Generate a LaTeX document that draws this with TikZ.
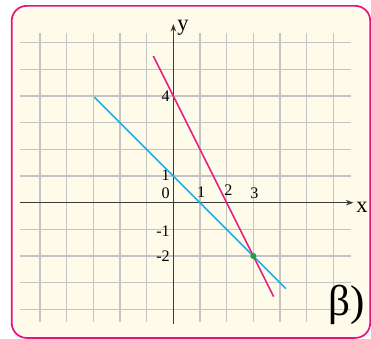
\documentclass[tikz,border=0pt]{standalone}
\usepackage{fontspec}
\setmainfont{Liberation Serif}
\usetikzlibrary{arrows.meta}
\definecolor{frpink}{HTML}{E6127F}
\definecolor{paper}{HTML}{FFFBEA}
\definecolor{gridgray}{HTML}{C4C4C4}
\definecolor{axgray}{HTML}{3A3A3A}
\definecolor{lnblue}{HTML}{2AAAE2}
\definecolor{lnpink}{HTML}{E61E7D}
\definecolor{ptgreen}{HTML}{1E9E4A}

\begin{document}
\begin{tikzpicture}[>=Stealth,x=0.5cm,y=0.5cm]
  \useasboundingbox (-6.5,-5.11) rectangle (7.41,7.6);

  % --- frame ---
  \draw[frpink,fill=paper,line width=0.9pt,rounded corners=0.28cm]
    (-6.06,-5.07) rectangle (7.38,7.38);

  % --- grid ---
  \foreach \xx in {-5,...,6}
    \draw[gridgray,line width=0.7pt] (\xx,-4.46) -- (\xx,6.36);
  \foreach \yy in {-4,...,6}
    \draw[gridgray,line width=0.7pt] (-5.74,\yy) -- (6.65,\yy);

  % --- axes ---
  \draw[->,axgray,line width=0.8pt,>={Stealth[length=4pt,width=3pt]}]
    (-5.74,0) -- (6.75,0);
  \draw[->,axgray,line width=0.8pt,>={Stealth[length=4pt,width=3pt]}]
    (0,-4.55) -- (0,6.7);
  \node[font=\large] (xlab) at (7.07,-0.18) {x};
  \node[font=\large] (ylab) at (0.36,6.55) {y};

  % y ticks
  \foreach \v/\yy in {4/4,1/1.04,0/0.37,-1/-1.06,-2/-2.02}
    \node[font=\fontsize{8.6}{10}\selectfont,left,inner sep=0pt] (ty\v) at (-0.12,\yy) {\v};
  % x ticks
  \foreach \v/\xx/\yy in {1/1.04/0.41,2/2.06/0.47,3/3.04/0.35}
    \node[font=\fontsize{8.6}{10}\selectfont,inner sep=0pt] (tx\v) at (\xx,\yy) {\v};

  % the two lines
  \coordinate (meet) at (3,-2);
  \draw[lnblue,line width=0.85pt] (-2.96,3.96) -- (meet) -- (4.22,-3.22);
  \draw[lnpink,line width=0.85pt] (-0.75,5.5) -- (meet) -- (3.76,-3.52);
  \fill[ptgreen] (meet) circle (0.115);

  % label
  \node[font=\fontsize{23}{27}\selectfont] (beta) at (6.5,-3.85) {β)};

\end{tikzpicture}
\end{document}
